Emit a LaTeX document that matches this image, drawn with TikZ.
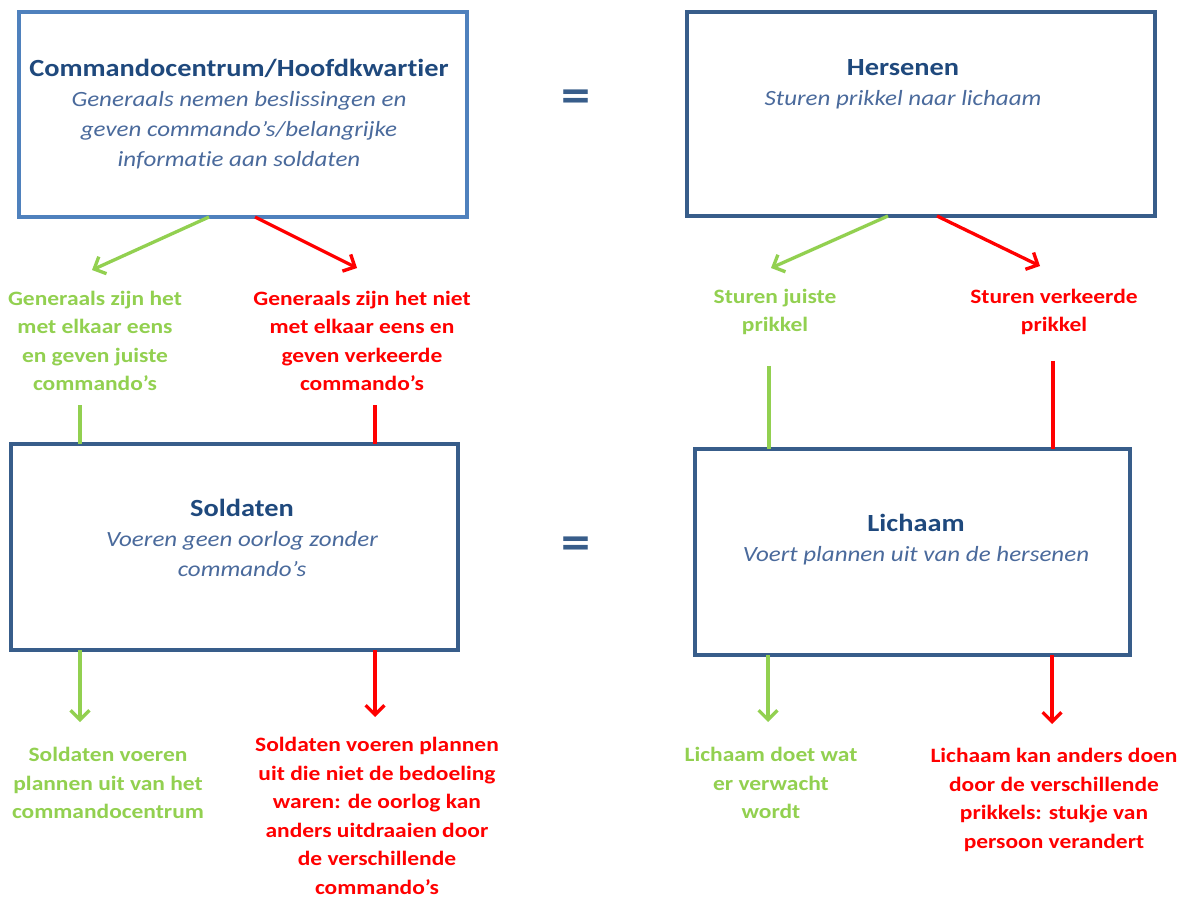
\documentclass[tikz,border=0pt]{standalone}
\usepackage{fontspec}
\setmainfont{Carlito}[FakeStretch=1.15,Ligatures={NoCommon}]
\usetikzlibrary{arrows.meta}
\definecolor{boxblue}{HTML}{4F81BD}
\definecolor{boxdark}{HTML}{385D8A}
\definecolor{titleblue}{HTML}{1F497D}
\definecolor{itblue}{HTML}{4A6A9C}
\definecolor{okgreen}{HTML}{92D050}
\definecolor{badred}{HTML}{FF0000}
\newcommand\myttl[1]{{\color{titleblue}\fontsize{18.5}{22.5}\selectfont\bfseries\upshape #1}}
\begin{document}
\begin{tikzpicture}[x=0.75pt,y=-0.75pt,
  bx/.style={draw=boxdark, line width=2.3pt, fill=white, inner sep=0pt},
  boxtext/.style={align=center, inner sep=0pt, text=itblue, font=\fontsize{16.3}{22.5}\selectfont\itshape},
  gtext/.style={align=center, inner sep=0pt, text=okgreen, font=\fontsize{15.3}{21.4}\selectfont\bfseries},
  rtext/.style={align=center, inner sep=0pt, text=badred, font=\fontsize{15.3}{21.4}\selectfont\bfseries},
  garrow/.style={draw=okgreen, line width=2.5pt, -{Straight Barb[length=7pt,width=14pt,line width=2.5pt]}},
  rarrow/.style={draw=badred, line width=2.5pt, -{Straight Barb[length=7pt,width=14pt,line width=2.5pt]}},
  gline/.style={draw=okgreen, line width=2.5pt},
  rline/.style={draw=badred, line width=2.5pt},
  eqsign/.style={text=boxdark, inner sep=0pt, font=\fontsize{38}{40}\selectfont\bfseries}
]
\useasboundingbox (0,0) rectangle (1188,898);

% boxes
\node[bx, draw=boxblue, minimum width=336pt, minimum height=153.75pt] (box1) at (243,114.5) {};
\node[bx, minimum width=351pt, minimum height=153pt] (box2) at (921,114) {};
\node[bx, minimum width=335.25pt, minimum height=154.5pt] (box3) at (234.5,547) {};
\node[bx, minimum width=326.25pt, minimum height=154.5pt] (box4) at (912.5,552) {};

% box texts
\node[boxtext] (t1) at (239,114) {\myttl{Commandocentrum/Hoofdkwartier}\\Generaals nemen beslissingen en\\geven commando’s/belangrijke\\informatie aan soldaten};
\node[boxtext] (t2) at (903,84) {\myttl{Hersenen}\\Sturen prikkel naar lichaam};
\node[boxtext] (t3) at (242,538) {\myttl{Soldaten}\\Voeren geen oorlog zonder\\commando’s};
\node[boxtext] (t4) at (916,540) {\myttl{Lichaam}\\Voert plannen uit van de hersenen};

% equal signs
\node[eqsign] (eq1) at (576,101) {=};
\node[eqsign] (eq2) at (576,548) {=};

% colored texts
\node[gtext] (g1) at (95,341) {Generaals zijn het\\met elkaar eens\\en geven juiste\\commando’s};
\node[rtext] (r1) at (362,341) {Generaals zijn het niet\\met elkaar eens en\\geven verkeerde\\commando’s};
\node[gtext] (g2) at (775,312) {Sturen juiste\\prikkel};
\node[rtext] (r2) at (1054,312) {Sturen verkeerde\\prikkel};
\node[gtext] (g3) at (108,783) {Soldaten voeren\\plannen uit van het\\commandocentrum};
\node[rtext] (r3) at (377,816) {Soldaten voeren plannen\\uit die niet de bedoeling\\waren: de oorlog kan\\anders uitdraaien door\\de verschillende\\commando’s};
\node[gtext] (g4) at (771,783) {Lichaam doet wat\\er verwacht\\wordt};
\node[rtext] (r4) at (1054,800) {Lichaam kan anders doen\\door de verschillende\\prikkels: stukje van\\persoon verandert};

% coordinates for connectors
\coordinate (a1s) at (209,217);  \coordinate (a1e) at (92,270);
\coordinate (a2s) at (255,217);  \coordinate (a2e) at (357,268);
\coordinate (a3s) at (888,216);  \coordinate (a3e) at (771,268);
\coordinate (a4s) at (937,216);  \coordinate (a4e) at (1040,266);
\coordinate (l1s) at (80,405);   \coordinate (l1e) at (80,444);
\coordinate (l2s) at (375,405);  \coordinate (l2e) at (375,444);
\coordinate (l3s) at (769,366);  \coordinate (l3e) at (769,449);
\coordinate (l4s) at (1053,361); \coordinate (l4e) at (1053,449);
\coordinate (b1s) at (80,650);   \coordinate (b1e) at (80,722);
\coordinate (b2s) at (375,650);  \coordinate (b2e) at (375,717);
\coordinate (b3s) at (768,655);  \coordinate (b3e) at (768,722);
\coordinate (b4s) at (1052,655); \coordinate (b4e) at (1052,724);

\draw[garrow] (a1s) -- (a1e);
\draw[rarrow] (a2s) -- (a2e);
\draw[garrow] (a3s) -- (a3e);
\draw[rarrow] (a4s) -- (a4e);
\draw[gline] (l1s) -- (l1e);
\draw[rline] (l2s) -- (l2e);
\draw[gline] (l3s) -- (l3e);
\draw[rline] (l4s) -- (l4e);
\draw[garrow] (b1s) -- (b1e);
\draw[rarrow] (b2s) -- (b2e);
\draw[garrow] (b3s) -- (b3e);
\draw[rarrow] (b4s) -- (b4e);
\end{tikzpicture}
\end{document}
